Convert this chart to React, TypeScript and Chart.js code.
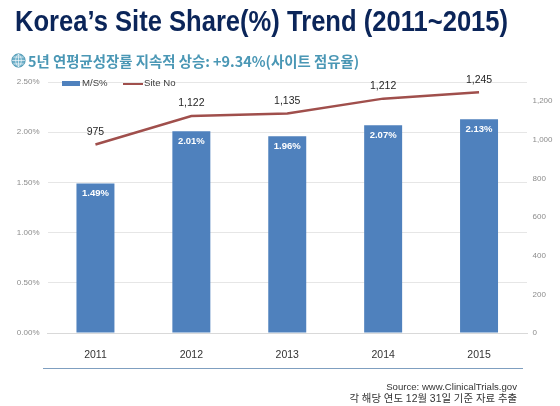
import React, { useEffect, useRef } from "react";
import { Chart, registerables } from "chart.js";

Chart.register(...registerables);

const years = ["2011", "2012", "2013", "2014", "2015"];
const shareValues = [1.49, 2.01, 1.96, 2.07, 2.13];
const siteValues = [975, 1122, 1135, 1212, 1245];
const TITLE = "Korea’s Site Share(%) Trend (2011~2015)";
const SUBTITLE = "5년 연평균성장률 지속적 상승: +9.34%(사이트 점유율)";
const SOURCE_LINE = "Source: www.ClinicalTrials.gov";
const NOTE_LINE = "각 해당 연도 12월 31일 기준 자료 추출";

const FONT = "'Liberation Sans', Arial, sans-serif";
const KR = "'Liberation Sans', 'Noto Sans CJK KR', sans-serif";
const BLUE = "#4f81bd";
const RED = "#a04f4c";

const valueLabels = {
  id: "valueLabels",
  afterDatasetsDraw(chart: any) {
    const ctx = chart.ctx;
    ctx.save();
    ctx.textAlign = "center";
    ctx.textBaseline = "middle";
    chart.getDatasetMeta(1).data.forEach((bar: any, i: number) => {
      ctx.font = `bold 9.5px ${FONT}`;
      ctx.fillStyle = "#ffffff";
      ctx.fillText(shareValues[i].toFixed(2) + "%", bar.x, bar.y + 10);
    });
    chart.getDatasetMeta(0).data.forEach((pt: any, i: number) => {
      ctx.font = `10.5px ${FONT}`;
      ctx.fillStyle = "#262626";
      ctx.fillText(siteValues[i].toLocaleString("en-US"), pt.x, pt.y - 12.5);
    });
    ctx.restore();
  },
};

const legendText = { position: "absolute", top: 77, fontFamily: FONT, fontSize: 9.6, lineHeight: "12px", color: "#404040" } as const;

export default function App() {
  const ref = useRef<HTMLCanvasElement>(null);
  useEffect(() => {
    document.body.style.margin = "0";
    const chart = new Chart(ref.current!, {
      type: "bar",
      data: {
        labels: years,
        datasets: [
          {
            type: "line",
            label: "Site No",
            data: siteValues,
            yAxisID: "y1",
            borderColor: RED,
            backgroundColor: RED,
            borderWidth: 2.5,
            pointRadius: 0,
            tension: 0,
            order: 0,
          },
          {
            type: "bar",
            label: "M/S%",
            data: shareValues,
            yAxisID: "y",
            backgroundColor: BLUE,
            barPercentage: 0.396,
            categoryPercentage: 1,
            order: 1,
          },
        ],
      } as any,
      options: {
        responsive: false,
        animation: false,
        layout: { padding: { top: 82 } },
        plugins: {
          title: { display: false },
          tooltip: { enabled: false },
          legend: { display: false },
        },
        scales: {
          x: {
            grid: { display: false, drawTicks: false },
            border: { color: "#d9d9d9" },
            ticks: { color: "#333333", font: { family: FONT, size: 10.5 }, padding: 16, maxRotation: 0 },
            afterFit: (s: any) => { s.height = 73; },
          },
          y: {
            position: "left",
            min: 0,
            max: 2.5,
            grid: { color: "#e6e6e6", drawTicks: false },
            border: { display: false },
            ticks: {
              stepSize: 0.5,
              color: "#8c8c8c",
              padding: 8,
              font: { family: FONT, size: 8 },
              callback: (v: any) => Number(v).toFixed(2) + "%",
            },
            afterFit: (s: any) => { s.width = 47.5; },
          },
          y1: {
            position: "right",
            min: 0,
            max: 1298,
            afterBuildTicks: (s: any) => {
              s.ticks = s.ticks.filter((t: any) => t.value <= 1200);
            },
            grid: { display: false, drawTicks: false },
            border: { display: false },
            ticks: {
              stepSize: 200,
              color: "#8c8c8c",
              padding: 5.5,
              font: { family: FONT, size: 8 },
              callback: (v: any) => Number(v).toLocaleString("en-US"),
            },
            afterFit: (s: any) => { s.width = 33; },
          },
        },
      },
      plugins: [valueLabels],
    } as any);
    return () => chart.destroy();
  }, []);

  return (
    <div style={{ position: "relative", width: 560, height: 406, overflow: "hidden", background: "#fff" }}>
      <canvas ref={ref} width={560} height={406} style={{ position: "absolute", left: 0, top: 0 }} />
      <div style={{ position: "absolute", left: 15, top: 0.5, fontFamily: FONT, fontWeight: 700, fontSize: 29, lineHeight: "40px", color: "#0b2559", whiteSpace: "nowrap", transform: "scaleX(0.882)", transformOrigin: "left top" }}>{TITLE}</div>
      <svg width="15" height="15" viewBox="0 0 14 14" style={{ position: "absolute", left: 11, top: 53 }}>
        <circle cx="7" cy="7" r="6.2" fill="#6fb0c9" stroke="#4a93b0" strokeWidth="0.8" />
        <path d="M1 7H13M7 1V13M2.2 3.8H11.8M2.2 10.2H11.8M7 1C3.5 4 3.5 10 7 13M7 1C10.5 4 10.5 10 7 13" fill="none" stroke="#ffffff" strokeWidth="0.6" />
      </svg>
      <div style={{ position: "absolute", left: 28, top: 50.5, fontFamily: "'Noto Sans CJK KR', sans-serif", fontWeight: 700, fontSize: 14.4, lineHeight: "20px", color: "#4a97b5", whiteSpace: "nowrap" }}>{SUBTITLE}</div>
      <div style={{ position: "absolute", left: 62, top: 81, width: 18, height: 5, background: BLUE }} />
      <div style={{ ...legendText, left: 82 }}>M/S%</div>
      <div style={{ position: "absolute", left: 122.5, top: 82.5, width: 20, height: 2, background: RED }} />
      <div style={{ ...legendText, left: 144 }}>Site No</div>
      <div style={{ position: "absolute", left: 43, top: 368, width: 480, height: 1, background: "#7f9fc0" }} />
      <div style={{ position: "absolute", right: 43, top: 381, textAlign: "right", fontFamily: KR, lineHeight: "11.5px", color: "#333", whiteSpace: "nowrap" }}>
        <div style={{ fontSize: 9.6 }}>{SOURCE_LINE}</div>
        <div style={{ fontSize: 10.4 }}>{NOTE_LINE}</div>
      </div>
    </div>
  );
}
